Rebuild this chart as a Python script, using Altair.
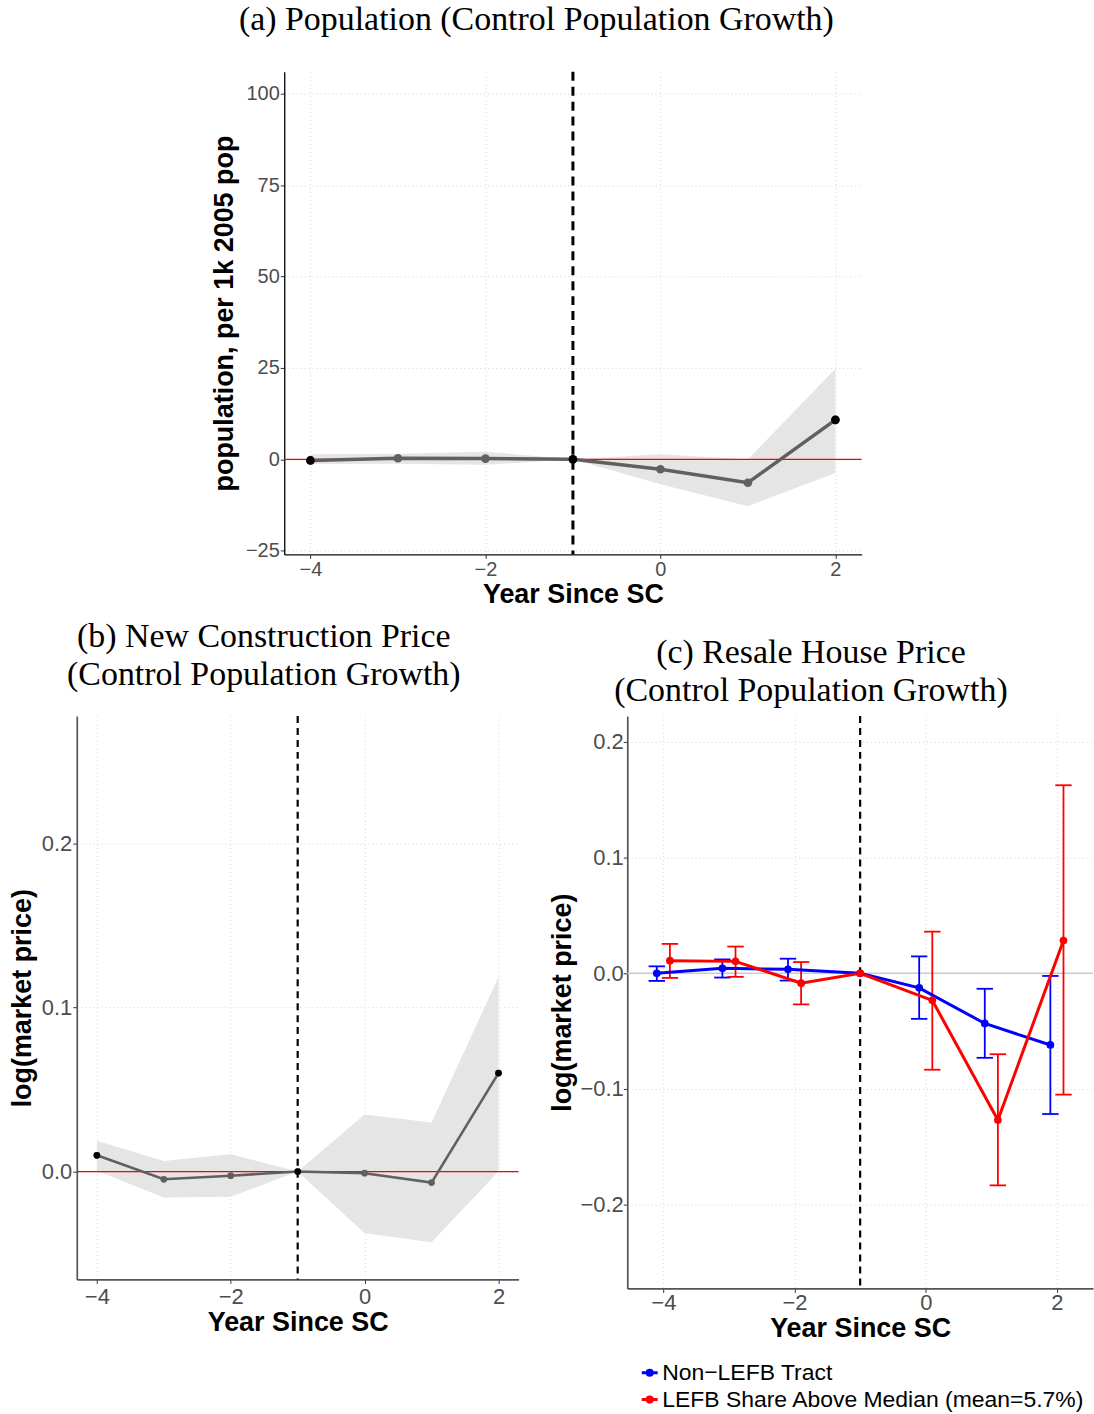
import altair as alt
import pandas as pd

# Event time: years relative to the SC year (-1 is the omitted base year)
years = [-4, -3, -2, -1, 0, 1, 2]

# (a) Population, per 1k 2005 population: estimate and 95% band
pop_est = [-0.3, 0.3, 0.2, 0.0, -2.7, -6.4, 10.8]
pop_lo = [-1.3, -1.2, -1.5, 0.0, -6.8, -12.8, -3.7]
pop_hi = [1.4, 1.5, 2.1, 0.0, 1.4, 0.0, 24.8]

# (b) New construction price, log(market price)
nc_est = [0.0099, -0.0047, -0.0025, 0.0, -0.0010, -0.0067, 0.0600]
nc_lo = [0.0005, -0.0158, -0.0153, 0.0, -0.0375, -0.0430, 0.0000]
nc_hi = [0.0188, 0.0064, 0.0106, 0.0, 0.0348, 0.0299, 0.1185]

# (c) Resale house price, log(market price), by tract group
groups = ["Non\u2212LEFB Tract", "LEFB Share Above Median (mean=5.7%)"]
non_est = [0.0000, 0.0043, 0.0034, 0.0, -0.0126, -0.0434, -0.0620]
non_lo = [-0.0066, -0.0037, -0.0063, None, -0.0394, -0.0731, -0.1217]
non_hi = [0.0060, 0.0120, 0.0126, None, 0.0146, -0.0134, -0.0023]
lefb_est = [0.0109, 0.0103, -0.0086, 0.0, -0.0234, -0.1269, 0.0283]
lefb_lo = [-0.0040, -0.0031, -0.0269, None, -0.0834, -0.1834, -0.1049]
lefb_hi = [0.0254, 0.0231, 0.0097, None, 0.0360, -0.0700, 0.1626]

base_year = [-1]
zero_level = [0]
anchor_years = [-4, -1, 2]

x_ticks = [-4, -2, 0, 2]
pop_ticks = [-25, 0, 25, 50, 75, 100]
nc_ticks = [0.0, 0.1, 0.2]
rs_ticks = [-0.2, -0.1, 0.0, 0.1, 0.2]

LABEL_FONT = "Liberation Sans"
TITLE_FONT = "Liberation Serif"

pop_df = pd.DataFrame({"year": years, "est": pop_est, "lo": pop_lo, "hi": pop_hi})
nc_df = pd.DataFrame({"year": years, "est": nc_est, "lo": nc_lo, "hi": nc_hi})
rs_df = pd.concat(
    [
        pd.DataFrame({"year": years, "group": groups[0], "est": non_est, "lo": non_lo, "hi": non_hi}),
        pd.DataFrame({"year": years, "group": groups[1], "est": lefb_est, "lo": lefb_lo, "hi": lefb_hi}),
    ],
    ignore_index=True,
)
base_df = pd.DataFrame({"year": base_year})
zero_df = pd.DataFrame({"v": zero_level})

anchor_expr = " || ".join(f"datum.year == {y}" for y in anchor_years)


def axis_style(label_size, domain_color, domain_w, pad):
    return dict(labelFontSize=label_size, domainColor=domain_color,
                domainWidth=domain_w, labelPadding=pad)


def event_panel(df, y_domain, y_ticks, y_fmt, y_title, width, height,
                line_w, pt_size, dash_w, dash, title, x_style, y_style, y_title_pad):
    xs = alt.Scale(domain=[-4.3, 2.3], nice=False, zero=False)
    ys = alt.Scale(domain=y_domain, nice=False, zero=False)
    base = alt.Chart(df)
    band = base.mark_area(color="#e5e5e5", opacity=1).encode(
        x=alt.X("year:Q", scale=xs,
                axis=alt.Axis(values=x_ticks, format="d", title="Year Since SC",
                              titlePadding=2, **x_style)),
        y=alt.Y("lo:Q", scale=ys,
                axis=alt.Axis(values=y_ticks, format=y_fmt, title=y_title,
                              titlePadding=y_title_pad, **y_style)),
        y2="hi:Q",
    )
    zero = alt.Chart(zero_df).mark_rule(color="#ff0000", strokeWidth=1.2).encode(
        y=alt.Y("v:Q", scale=ys)
    )
    vline = alt.Chart(base_df).mark_rule(
        color="black", strokeWidth=dash_w, strokeDash=dash
    ).encode(x=alt.X("year:Q", scale=xs))
    line = base.mark_line(color="#606060", strokeWidth=line_w).encode(
        x=alt.X("year:Q", scale=xs), y=alt.Y("est:Q", scale=ys)
    )
    pts = base.mark_circle(color="#606060", size=pt_size, opacity=1).encode(
        x=alt.X("year:Q", scale=xs), y=alt.Y("est:Q", scale=ys)
    )
    pts_dark = base.transform_filter(anchor_expr).mark_circle(
        color="black", size=pt_size, opacity=1
    ).encode(x=alt.X("year:Q", scale=xs), y=alt.Y("est:Q", scale=ys))
    return alt.layer(band, zero, vline, line, pts, pts_dark).properties(
        width=width, height=height, title=title,
    )


a_style = axis_style(20, "#111111", 1.4, 1)
panel_a = event_panel(
    pop_df, [-26, 106], pop_ticks, "d", "population, per 1k 2005 pop",
    579, 484, 3.5, 75, 3, [9, 6],
    alt.TitleParams("(a) Population (Control Population Growth)",
                    offset=33, frame="bounds"),
    a_style, a_style, 7,
)

panel_b = event_panel(
    nc_df, [-0.0657, 0.2775], nc_ticks, ".1f", "log(market price)",
    443, 565, 2.6, 45, 2.2, [7, 5],
    alt.TitleParams(["(b) New Construction Price", "(Control Population Growth)"],
                    offset=23, frame="bounds"),
    axis_style(22, "#555555", 1.7, 3), axis_style(22, "#555555", 1.7, 1), 5,
)

# (c) two dodged series with error bars
ring = lambda r: f"M{-r},0A{r},{r} 0 1,0 {r},0A{r},{r} 0 1,0 {-r},0"
legend_symbol = "M-1,0L1,0" + "".join(ring(r) for r in (0.08, 0.16, 0.24, 0.32))

col_scale = alt.Scale(domain=groups, range=["#0000ff", "#ff0000"])
group_legend = alt.Legend(
    title=None, orient="none", legendX=11, legendY=647, padding=0,
    direction="vertical", symbolType=legend_symbol, symbolSize=256,
    symbolStrokeWidth=3, labelFont=LABEL_FONT, labelFontSize=23,
    labelColor="black", labelOffset=1, rowPadding=3, labelLimit=600,
)
group_color = alt.Color("group:N", scale=col_scale, sort=groups, legend=group_legend)

cxs = alt.Scale(domain=[-4.55, 2.55], nice=False, zero=False)
cys = alt.Scale(domain=[-0.2725, 0.2225], nice=False, zero=False)
c_style = axis_style(22, "#555555", 1.7, 0)

rs_base = alt.Chart(rs_df).transform_calculate(
    xpos="datum.year == -1 ? datum.year : datum.year + (datum.group == '"
    + groups[0] + "' ? -0.1 : 0.1)"
).transform_calculate(
    xl="datum.xpos - 0.125", xr="datum.xpos + 0.125"
)

rs_zero = alt.Chart(zero_df).mark_rule(color="#cccccc", strokeWidth=1.5).encode(
    y=alt.Y("v:Q", scale=cys,
            axis=alt.Axis(values=rs_ticks, format=".1f", title="log(market price)",
                          titlePadding=4, **c_style))
)
rs_vline = alt.Chart(base_df).mark_rule(
    color="black", strokeWidth=2.2, strokeDash=[7, 5]
).encode(x=alt.X("year:Q", scale=cxs,
                 axis=alt.Axis(values=x_ticks, format="d", title="Year Since SC",
                               titlePadding=2, **c_style)))

bars = rs_base.transform_filter("isValid(datum.lo)")
err_v = bars.mark_rule(strokeWidth=1.8).encode(
    x=alt.X("xpos:Q", scale=cxs), y=alt.Y("lo:Q", scale=cys), y2="hi:Q",
    color=group_color,
)
err_lo = bars.mark_rule(strokeWidth=1.8).encode(
    x=alt.X("xl:Q", scale=cxs), x2="xr:Q", y=alt.Y("lo:Q", scale=cys),
    color=group_color,
)
err_hi = bars.mark_rule(strokeWidth=1.8).encode(
    x=alt.X("xl:Q", scale=cxs), x2="xr:Q", y=alt.Y("hi:Q", scale=cys),
    color=group_color,
)
rs_line = rs_base.mark_line(strokeWidth=3).encode(
    x=alt.X("xpos:Q", scale=cxs), y=alt.Y("est:Q", scale=cys), color=group_color,
)
rs_pts = rs_base.mark_circle(size=60, opacity=1).encode(
    x=alt.X("xpos:Q", scale=cxs), y=alt.Y("est:Q", scale=cys), color=group_color,
)

panel_c = alt.layer(rs_zero, rs_vline, err_v, err_lo, err_hi, rs_line, rs_pts).properties(
    width=467,
    height=574,
    title=alt.TitleParams(["(c) Resale House Price", "(Control Population Growth)"],
                          offset=7, frame="bounds", dx=-10),
)

spacer = alt.Chart(pd.DataFrame({"v": [0]})).mark_point(opacity=0, size=1).encode(
    x=alt.X("v:Q", axis=None, scale=alt.Scale(domain=[-1, 1])),
    y=alt.Y("v:Q", axis=None, scale=alt.Scale(domain=[-1, 1])),
).properties(width=208, height=484)

top_row = alt.hconcat(spacer, panel_a, spacing=0, bounds="flush")
bottom_row = alt.hconcat(panel_b, panel_c, spacing=109, bounds="flush").resolve_scale(
    color="independent"
).resolve_legend(color="independent")

chart = alt.vconcat(top_row, bottom_row, spacing=12).resolve_scale(
    color="independent"
).resolve_legend(color="independent").properties(
    padding={"left": 8, "top": 1, "right": 0, "bottom": 0},
    background="white",
).configure_view(stroke=None).configure_axis(
    labelFont=LABEL_FONT, labelColor="#4d4d4d",
    titleFont=LABEL_FONT, titleFontSize=27, titleFontWeight="bold", titleColor="black",
    tickColor="#333333", tickSize=4, tickWidth=1,
    gridColor="#d4d4d4", gridDash=[1, 3], gridWidth=1,
).configure_title(
    font=TITLE_FONT, fontSize=34, fontWeight="normal", color="black",
    anchor="middle", lineHeight=38.5, baseline="bottom",
)

chart.save("out.html", embed_options={"renderer": "svg", "actions": False})
